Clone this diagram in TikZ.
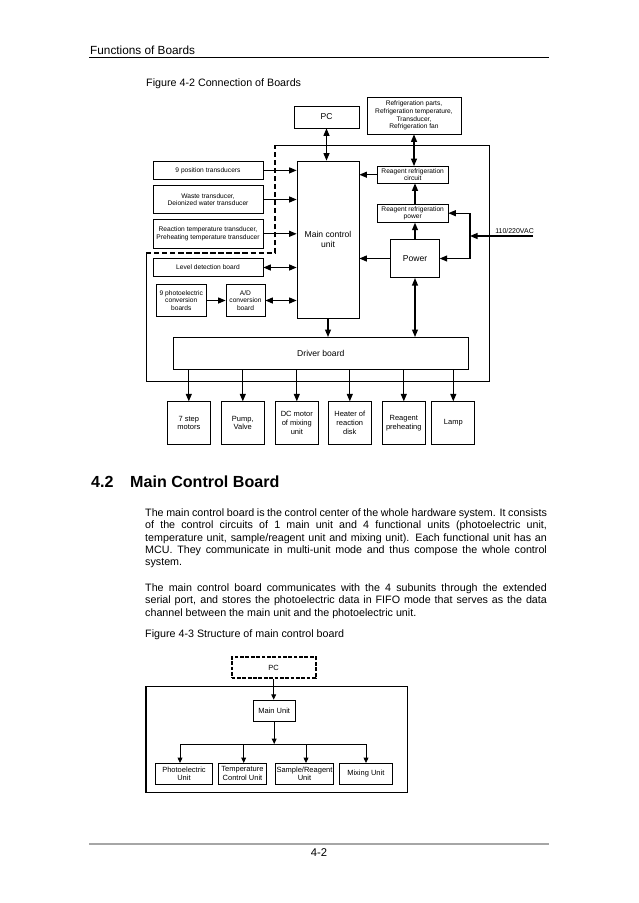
\documentclass[tikz,border=0pt]{standalone}
\usepackage{fontspec}
\setmainfont{Liberation Sans}
\usetikzlibrary{arrows.meta}

\begin{document}
\begin{tikzpicture}[x=0.933pt,y=-0.933pt,
		box/.style={draw,line width=0.6pt,inner sep=0pt,align=center},
		wh/.style 2 args={minimum width=#1*0.933pt,minimum height=#2*0.933pt},
		smalltxt/.style={font=\fontsize{6.2}{7.1}\selectfont},
		unittxt/.style={font=\fontsize{7}{8.3}\selectfont},
		maintxt/.style={font=\fontsize{8}{9.5}\selectfont},
		bodyline/.style={anchor=base west,inner sep=0pt,font=\fontsize{10}{12}\selectfont},
		linkarrow/.style={line width=1.2pt,-{Triangle[length=7pt,width=5.5pt]}},
		linkboth/.style={line width=1.2pt,{Triangle[length=7pt,width=5.5pt]}-{Triangle[length=7pt,width=5.5pt]}},
		unitarrow/.style={line width=0.8pt,-{Triangle[length=5pt,width=4.5pt]}}]
	\useasboundingbox (0,0) rectangle (638,903);
	\fill[white] (0,0) rectangle (638,903);
	\node[anchor=base west,inner sep=0pt,font=\fontsize{11}{13}\selectfont] (hdr) at (90,54) {Functions of Boards};
	\draw[line width=0.8pt] (89,57) -- (549,57);
	\node[bodyline] (cap2) at (146,86) {Figure 4-2 Connection of Boards};
	\node[box,wh={65}{22},maintxt] (pc) at (326.5,117) {PC};
	\node[box,wh={94}{37},smalltxt] (refparts) at (414,115.5) {Refrigeration parts,\\Refrigeration temperature,\\Transducer,\\Refrigeration fan};
	\node[box,wh={62}{157},maintxt] (main) at (328,239.5) {Main control\\unit};
	\node[box,wh={110}{18},smalltxt] (pos) at (208,170.4) {9 position transducers};
	\node[box,wh={110}{27.6},smalltxt] (waste) at (208,199.5) {Waste transducer,\\Deionized water transducer};
	\node[box,wh={110}{29},smalltxt] (react) at (208,233.8) {Reaction temperature transducer,\\Preheating temperature transducer};
	\node[box,wh={110}{18.4},smalltxt] (level) at (208,267.5) {Level detection board};
	\node[box,wh={49.3}{32.4},smalltxt] (photo) at (181.3,300.5) {9 photoelectric\\conversion\\boards};
	\node[box,wh={39}{32.4},smalltxt] (ad) at (245.5,300.5) {A/D\\conversion\\board};
	\node[box,wh={70.5}{16.5},smalltxt] (rcirc) at (412.7,174.7) {Reagent refrigeration\\circuit};
	\node[box,wh={70.5}{18.3},smalltxt] (rpow) at (412.7,213.2) {Reagent refrigeration\\power};
	\node[box,wh={48.6}{38.4},maintxt] (power) at (415,258.5) {Power};
	\node[box,wh={295}{31.7},maintxt] (driver) at (320.8,353.2) {Driver board};
	\draw[line width=0.7pt] (275,145.3) -- (489,145.3) -- (489,381) -- (146,381) -- (146,253);
	\draw[line width=1.5pt,dash pattern=on 5pt off 2.5pt] (146,253) -- (275,253) -- (275,145.3);
	\draw[linkboth] (pc.south) -- (pc.south |- main.north);
	\draw[linkboth] (refparts.south) -- (refparts.south |- rcirc.north);
	\draw[linkarrow] (rcirc.west) -- (rcirc.west -| main.east);
	\draw[linkarrow] (power.north) -- (power.north |- rpow.south);
	\draw[linkarrow] (power.north |- rpow.north) -- (power.north |- rcirc.south);
	\draw[linkarrow] (power.west) -- (power.west -| main.east);
	\draw[linkboth] (power.south) -- (power.south |- driver.north);
	\draw[linkarrow] (main.south) -- (main.south |- driver.north);
	\foreach \s in {pos,waste,react} {\draw[linkarrow] (\s.east) -- (\s.east -| main.west);}
	\draw[linkboth] (level.east) -- (level.east -| main.west);
	\draw[linkarrow] (photo.east) -- (ad.west);
	\draw[linkboth] (ad.east) -- (ad.east -| main.west);
	\coordinate (acin) at (533,236);
	\coordinate (acj) at (470,236);
	\node[anchor=base east,inner sep=0pt,font=\fontsize{6.5}{8}\selectfont] (aclabel) at (534,233) {110/220VAC};
	\draw[linkarrow] (acin) -- (acj);
	\draw[linkarrow] (acj) |- (rpow.east);
	\draw[linkarrow] (acj) |- (power.east);
	\foreach \n/\x/\t in {stp/188.8/{7 step\\motors},pmp/242.8/{Pump,\\Valve},dcm/296.8/{DC motor\\of mixing\\unit},htr/349.8/{Heater of\\reaction\\disk},rph/403.8/{Reagent\\preheating},lmp/453.3/{Lamp}} {
		\node[box,wh={43}{42.6},unittxt] (\n) at (\x,423) {\t};
		\draw[linkarrow] (\n.north |- driver.south) -- (\n.north);
	}
	\node[anchor=base west,inner sep=0pt,font=\bfseries\fontsize{15}{18}\selectfont] (secnum) at (91,487.3) {4.2};
	\node[anchor=base west,inner sep=0pt,font=\bfseries\fontsize{15}{18}\selectfont] (sectitle) at (130,487.3) {Main Control Board};
	\node[bodyline] (pa1) at (145,516.5) {\makebox[374.8pt][s]{The main control board is the control center of the whole hardware system. It consists}};
	\node[bodyline] (pa2) at (145,528.8) {\makebox[374.8pt][s]{of the control circuits of 1 main unit and 4 functional units (photoelectric unit,}};
	\node[bodyline] (pa3) at (145,541) {\makebox[374.8pt][s]{temperature unit, sample/reagent unit and mixing unit). Each functional unit has an}};
	\node[bodyline] (pa4) at (145,553.3) {\makebox[374.8pt][s]{MCU. They communicate in multi-unit mode and thus compose the whole control}};
	\node[bodyline] (pa5) at (145,565.5) {system.};
	\node[bodyline] (pb1) at (145,591.5) {\makebox[374.8pt][s]{The main control board communicates with the 4 subunits through the extended}};
	\node[bodyline] (pb2) at (145,603.7) {\makebox[374.8pt][s]{serial port, and stores the photoelectric data in FIFO mode that serves as the data}};
	\node[bodyline] (pb3) at (145,616) {channel between the main unit and the photoelectric unit.};
	\node[bodyline] (cap3) at (145,637) {Figure 4-3 Structure of main control board};
	\node[box,wh={84}{21},unittxt,line width=1.8pt,dash pattern=on 3.5pt off 1.5pt] (pc2) at (273.7,667.8) {PC};
	\draw[line width=1.4pt] (146,686.7) rectangle (407.7,792.7);
	\node[box,wh={41.7}{21},unittxt] (mainu) at (274.2,710.5) {Main Unit};
	\coordinate (bus) at (274.2,744);
	\coordinate (b1) at (180,744);
	\coordinate (b4) at (366,744);
	\draw[unitarrow] (pc2.south) -- (pc2.south |- mainu.north);
	\draw[unitarrow] (mainu.south) -- (bus);
	\draw[line width=0.8pt] (b1) -- (b4);
	\foreach \n/\x/\xa/\w/\t in {phu/184/180/56.6/{Photoelectric\\Unit},tcu/242.5/243.7/48.4/{Temperature\\Control Unit},sru/304.5/306/57.6/{Sample/Reagent\\Unit},mxu/365.8/366/53/{Mixing Unit}} {
		\node[box,wh={\w}{21},unittxt] (\n) at (\x,773.8) {\t};
		\draw[unitarrow] (\xa,744) -- (\xa,763.3 |- \n.north);
	}
	\draw[line width=1pt,gray!70] (89,844) -- (549,844);
	\node[anchor=base,inner sep=0pt,font=\fontsize{10.5}{12}\selectfont] (pagenum) at (319,856.7) {4-2};
\end{tikzpicture}
\end{document}
